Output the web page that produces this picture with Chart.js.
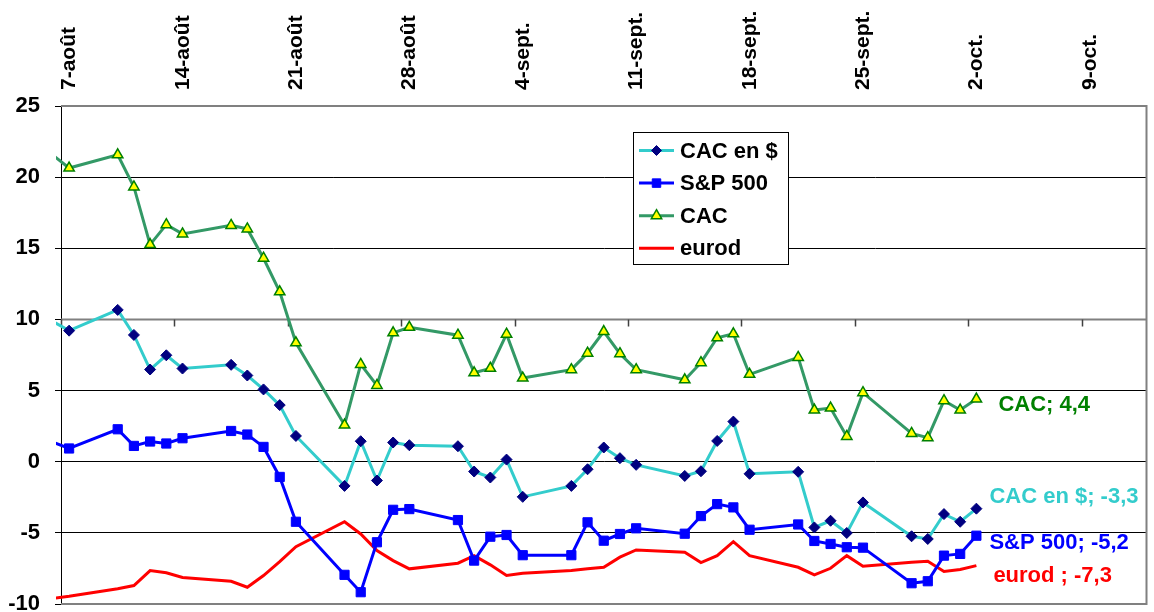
<!DOCTYPE html>
<html>
<head>
<meta charset="utf-8">
<script src="https://cdn.jsdelivr.net/npm/chart.js@4.4.1/dist/chart.umd.min.js"></script>
<style>
  html, body { margin: 0; padding: 0; background: #fff; }
</style>
</head>
<body>
<canvas id="main-chart"></canvas>
<script>
// trading days (Aug 6 is just before the axis start and is clipped)
const tradingDates = [
  '1998-08-06', '1998-08-07',
  '1998-08-10', '1998-08-11', '1998-08-12', '1998-08-13', '1998-08-14',
  '1998-08-17', '1998-08-18', '1998-08-19', '1998-08-20', '1998-08-21',
  '1998-08-24', '1998-08-25', '1998-08-26', '1998-08-27', '1998-08-28',
  '1998-08-31', '1998-09-01', '1998-09-02', '1998-09-03', '1998-09-04',
  '1998-09-07', '1998-09-08', '1998-09-09', '1998-09-10', '1998-09-11',
  '1998-09-14', '1998-09-15', '1998-09-16', '1998-09-17', '1998-09-18',
  '1998-09-21', '1998-09-22', '1998-09-23', '1998-09-24', '1998-09-25',
  '1998-09-28', '1998-09-29', '1998-09-30', '1998-10-01', '1998-10-02'
];

const axisDates = ['1998-08-07', '1998-08-14', '1998-08-21', '1998-08-28', '1998-09-04',
  '1998-09-11', '1998-09-18', '1998-09-25', '1998-10-02', '1998-10-09'];
const axisLabels = ['7-août', '14-août', '21-août', '28-août', '4-sept.',
  '11-sept.', '18-sept.', '25-sept.', '2-oct.', '9-oct.'];

const cacDollar = [9.85, 9.21,
  10.67, 8.91, 6.48, 7.48, 6.55,
  6.81, 6.06, 5.08, 3.98, 1.81,
  -1.70, 1.44, -1.32, 1.35, 1.16,
  1.09, -0.69, -1.11, 0.15, -2.47,
  -1.70, -0.53, 1.00, 0.25, -0.22,
  -1.00, -0.67, 1.46, 2.82, -0.85,
  -0.71, -4.62, -4.15, -5.01, -2.86,
  -5.24, -5.43, -3.68, -4.22, -3.30];

const sp500 = [1.38, 0.93,
  2.28, 1.11, 1.42, 1.28, 1.65,
  2.16, 1.91, 1.04, -1.07, -4.22,
  -7.95, -9.17, -5.66, -3.38, -3.33,
  -4.10, -6.95, -5.27, -5.15, -6.57,
  -6.57, -4.26, -5.55, -5.08, -4.68,
  -5.06, -3.82, -2.98, -3.21, -4.78,
  -4.41, -5.57, -5.78, -6.01, -6.04,
  -8.54, -8.40, -6.60, -6.48, -5.20];

const cac = [21.55, 20.64,
  21.57, 19.31, 15.26, 16.66, 16.01,
  16.61, 16.36, 14.30, 11.94, 8.36,
  2.58, 6.84, 5.36, 9.06, 9.45,
  8.89, 6.25, 6.56, 8.96, 5.88,
  6.47, 7.63, 9.15, 7.59, 6.47,
  5.76, 6.96, 8.71, 8.99, 6.14,
  7.33, 3.63, 3.77, 1.78, 4.85,
  1.99, 1.69, 4.29, 3.63, 4.40];

const eurod = [-9.61, -9.46,
  -8.93, -8.70, -7.65, -7.81, -8.14,
  -8.40, -8.82, -8.00, -7.02, -5.97,
  -4.22, -5.08, -6.25, -6.95, -7.53,
  -7.13, -6.60, -7.25, -8.00, -7.84,
  -7.65, -7.53, -7.42, -6.71, -6.20,
  -6.36, -7.09, -6.60, -5.62, -6.60,
  -7.42, -7.95, -7.49, -6.60, -7.35,
  -7.06, -7.00, -7.72, -7.58, -7.30];

const FONT = '"Liberation Sans", Arial, sans-serif';
const origin = Date.parse('1998-08-07');
const dayOf = s => (Date.parse(s) - origin) / 86400000;
const points = vals => tradingDates.map((d, i) => ({x: dayOf(d), y: vals[i]}));
const hideOffAxis = r => ctx => (ctx.raw && ctx.raw.x < 0 ? 0 : r);
const fmt = v => v.toFixed(1).replace('.', ',');
const clip = {left: 5, top: false, right: false, bottom: false};

// grey frame, the category axis crossing at 10 and its ticks
const framePlugin = {
  id: 'frame',
  beforeDatasetsDraw(chart) {
    const {ctx, chartArea: a, scales: {x, y}} = chart;
    const y10 = y.getPixelForValue(10);
    ctx.save();
    ctx.strokeStyle = '#808080';
    ctx.lineWidth = 2;
    ctx.beginPath();
    ctx.moveTo(a.left, a.top);
    ctx.lineTo(a.right, a.top);
    ctx.lineTo(a.right, a.bottom);
    ctx.lineTo(a.left, a.bottom);
    ctx.moveTo(a.left, y10);
    ctx.lineTo(a.right, y10);
    ctx.stroke();
    ctx.lineWidth = 1.5;
    ctx.strokeStyle = '#404040';
    ctx.beginPath();
    axisDates.forEach(s => {
      const px = Math.round(x.getPixelForValue(dayOf(s) - 0.5)) + 0.5;
      ctx.moveTo(px, y10);
      ctx.lineTo(px, y10 + 7);
    });
    ctx.stroke();
    ctx.restore();
  }
};

const endLabels = [
  {name: 'CAC en $', color: '#33CCCC', dx: 13, dy: -12},
  {name: 'S&P 500', color: '#0000FF', dx: 13, dy: 7},
  {name: 'CAC', color: '#008000', dx: 22, dy: 6},
  {name: 'eurod ', color: '#FF0000', dx: 17, dy: 10}
];

const labelPlugin = {
  id: 'endLabels',
  afterDatasetsDraw(chart) {
    const ctx = chart.ctx;
    ctx.save();
    ctx.font = 'bold 22px ' + FONT;
    ctx.textBaseline = 'middle';
    chart.data.datasets.forEach((ds, i) => {
      const meta = chart.getDatasetMeta(i);
      const last = meta.data[meta.data.length - 1];
      const v = ds.data[ds.data.length - 1].y;
      const lab = endLabels[i];
      ctx.fillStyle = lab.color;
      ctx.fillText(lab.name + '; ' + fmt(v), last.x + lab.dx, last.y + lab.dy);
    });
    ctx.restore();
  }
};

const legendPlugin = {
  id: 'boxLegend',
  afterDatasetsDraw(chart) {
    const ctx = chart.ctx;
    const bx = 633.5, by = 132.5, bw = 155, bh = 132;
    ctx.save();
    ctx.fillStyle = '#fff';
    ctx.fillRect(bx, by, bw, bh);
    ctx.strokeStyle = '#000';
    ctx.lineWidth = 1;
    ctx.strokeRect(bx, by, bw, bh);
    chart.data.datasets.forEach((ds, i) => {
      const cy = 150.5 + i * 32.6;
      ctx.strokeStyle = ds.borderColor;
      ctx.lineWidth = 3;
      ctx.beginPath();
      ctx.moveTo(639, cy);
      ctx.lineTo(674, cy);
      ctx.stroke();
      if (ds.legendRadius && Chart.helpers && Chart.helpers.drawPoint) {
        ctx.fillStyle = ds.pointBackgroundColor;
        ctx.strokeStyle = ds.pointBorderColor;
        ctx.lineWidth = ds.pointBorderWidth;
        Chart.helpers.drawPoint(ctx, {
          pointStyle: ds.pointStyle, radius: ds.legendRadius,
          borderWidth: ds.pointBorderWidth, rotation: 0
        }, 656.5, cy);
      }
      ctx.fillStyle = '#000';
      ctx.font = 'bold 22px ' + FONT;
      ctx.textBaseline = 'middle';
      ctx.fillText(ds.label, 680, cy + 1);
    });
    ctx.restore();
  }
};

document.addEventListener('DOMContentLoaded', () => {
  const canvas = document.getElementById('main-chart');
  canvas.setAttribute('width', '1154');
  canvas.setAttribute('height', '612');
  Chart.defaults.font.family = FONT;

  new Chart(canvas, {
    type: 'line',
    data: {
      datasets: [{
        label: 'CAC en $',
        data: points(cacDollar),
        borderColor: '#33CCCC',
        borderWidth: 3,
        pointStyle: 'rectRot',
        pointRadius: hideOffAxis(5.5),
        legendRadius: 5,
        pointBackgroundColor: '#000080',
        pointBorderColor: '#000080',
        pointBorderWidth: 1,
        clip: clip
      }, {
        label: 'S&P 500',
        data: points(sp500),
        borderColor: '#0000FF',
        borderWidth: 3,
        pointStyle: 'rect',
        pointRadius: hideOffAxis(6.5),
        legendRadius: 6,
        pointBackgroundColor: '#0000FF',
        pointBorderColor: '#0000FF',
        pointBorderWidth: 1,
        clip: clip
      }, {
        label: 'CAC',
        data: points(cac),
        borderColor: '#339966',
        borderWidth: 3,
        pointStyle: 'triangle',
        pointRadius: hideOffAxis(6),
        legendRadius: 6,
        pointBackgroundColor: '#FFFF00',
        pointBorderColor: '#008000',
        pointBorderWidth: 1.5,
        clip: clip
      }, {
        label: 'eurod',
        data: points(eurod),
        borderColor: '#FF0000',
        borderWidth: 3,
        pointRadius: 0,
        clip: clip
      }]
    },
    options: {
      responsive: false,
      animation: false,
      layout: {padding: {top: 0, left: 0, right: 6, bottom: 8}},
      elements: {line: {tension: 0}, point: {hoverRadius: 0}},
      plugins: {legend: {display: false}, tooltip: {enabled: false}},
      events: [],
      scales: {
        x: {
          type: 'linear',
          position: 'top',
          min: -0.5,
          max: 66.5,
          grid: {display: false, drawTicks: false},
          border: {display: false},
          afterBuildTicks: ax => { ax.ticks = axisDates.map(s => ({value: dayOf(s)})); },
          afterFit: s => {
            s.height = 106;
            s.paddingLeft = 0; s.paddingRight = 0; s.paddingTop = 0; s.paddingBottom = 0;
          },
          ticks: {
            autoSkip: false,
            minRotation: 90,
            maxRotation: 90,
            padding: 16,
            labelOffset: 25.5,
            color: '#000',
            font: {size: 21, weight: 'bold'},
            callback: (v, i) => axisLabels[i]
          }
        },
        y: {
          min: -10,
          max: 25,
          afterFit: s => {
            s.width = 61;
            s.paddingLeft = 0; s.paddingRight = 0; s.paddingTop = 0; s.paddingBottom = 0;
          },
          ticks: {
            stepSize: 5,
            padding: 15,
            color: '#000',
            font: {size: 22, weight: 'bold'}
          },
          grid: {
            color: ctx => ([20, 15, 5, 0, -5].includes(ctx.tick.value) ? '#000' : 'rgba(0,0,0,0)'),
            tickColor: '#000',
            tickLength: 6,
            lineWidth: 1
          },
          border: {color: '#000', width: 1}
        }
      }
    },
    plugins: [framePlugin, labelPlugin, legendPlugin]
  });
});
</script>
</body>
</html>
